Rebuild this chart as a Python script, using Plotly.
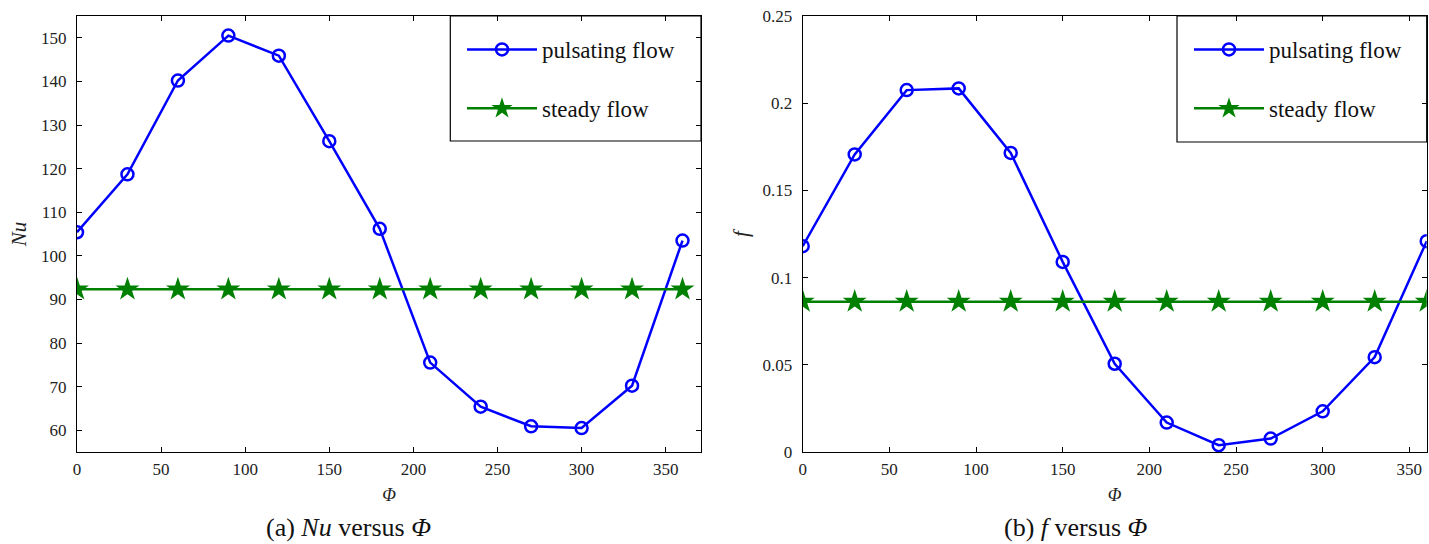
import plotly.graph_objects as go

phi = [0, 30, 60, 90, 120, 150, 180, 210, 240, 270, 300, 330, 360]
nu_pulsating = [105.4, 118.7, 140.2, 150.5, 145.9, 126.3, 106.2, 75.5, 65.4, 60.9, 60.5, 70.2, 103.5]
nu_steady = [92.3] * 13
f_pulsating = [0.118, 0.1706, 0.2075, 0.2085, 0.1715, 0.109, 0.0506, 0.0169, 0.0039, 0.0077, 0.0233, 0.0544, 0.1209]
f_steady = [0.0862] * 13

W, H = 1429, 544
FONT = "Liberation Serif"
BLUE = "#0000ff"
GREEN = "#008000"

def px(x):
    return x / W

def py(y):
    return 1 - y / H

fig = go.Figure()

def add_pair(xa, ya, pul, st, legend):
    fig.add_trace(go.Scatter(
        x=phi, y=pul, xaxis=xa, yaxis=ya, name="pulsating flow", legend=legend,
        mode="lines+markers", legendgroup=legend + "a",
        line=dict(color=BLUE, width=2.5),
        marker=dict(symbol="circle-open", size=12, color=BLUE, line=dict(width=2.5, color=BLUE)),
    ))
    fig.add_trace(go.Scatter(
        x=phi, y=st, xaxis=xa, yaxis=ya, name="steady flow", legend=legend,
        mode="lines+markers", legendgroup=legend + "b",
        line=dict(color=GREEN, width=2.5),
        marker=dict(symbol="star", size=18, color=GREEN, line=dict(width=0)),
    ))

add_pair("x", "y", nu_pulsating, nu_steady, "legend")
add_pair("x2", "y2", f_pulsating, f_steady, "legend2")

axis_common = dict(
    showline=True, linecolor="black", linewidth=1.2, mirror="ticks",
    ticks="inside", ticklen=5, tickwidth=1, tickcolor="black",
    showgrid=False, zeroline=False, automargin=False,
    tickfont=dict(family=FONT, size=17, color="#222"),
)

yd = [py(452), py(16)]
fig.update_layout(
    template="none",
    width=W, height=H,
    margin=dict(l=0, r=0, t=0, b=0, autoexpand=False),
    paper_bgcolor="white", plot_bgcolor="white",
    font=dict(family=FONT, color="#222"),
    xaxis=dict(domain=[px(77), px(701)], range=[0, 371], dtick=50, anchor="y",
               title=dict(text="<i>Φ</i>", font=dict(family=FONT, size=18), standoff=10),
               ticklabelstandoff=1, **axis_common),
    yaxis=dict(domain=yd, range=[55, 155], dtick=10, tick0=0, anchor="x",
               title=dict(text="<i>Nu</i>", font=dict(family=FONT, size=21), standoff=8),
               ticklabelstandoff=6, **axis_common),
    xaxis2=dict(domain=[px(802.7), px(1426.7)], range=[0, 360], dtick=50, anchor="y2",
                title=dict(text="<i>Φ</i>", font=dict(family=FONT, size=18), standoff=10),
                ticklabelstandoff=1, **axis_common),
    yaxis2=dict(domain=yd, range=[0, 0.25], dtick=0.05, anchor="x2",
                tickformat="~g",
                title=dict(text="<i>f</i>", font=dict(family=FONT, size=21), standoff=8),
                ticklabelstandoff=6, **axis_common),
    legend=dict(x=px(462), y=py(28), xanchor="left", yanchor="top",
                bgcolor="rgba(0,0,0,0)", borderwidth=0, itemwidth=70,
                font=dict(family=FONT, size=23, color="#111"),
                traceorder="grouped", tracegroupgap=26),
    legend2=dict(x=px(1189), y=py(28), xanchor="left", yanchor="top",
                 bgcolor="rgba(0,0,0,0)", borderwidth=0, itemwidth=70,
                 font=dict(family=FONT, size=23, color="#111"),
                 traceorder="grouped", tracegroupgap=26),
    shapes=[
        dict(type="rect", xref="paper", yref="paper", x0=px(450.3), x1=px(701), y0=py(141), y1=py(16),
             line=dict(color="black", width=1.2), fillcolor="rgba(0,0,0,0)"),
        dict(type="rect", xref="paper", yref="paper", x0=px(1177), x1=px(1426.7), y0=py(142), y1=py(16),
             line=dict(color="black", width=1.2), fillcolor="rgba(0,0,0,0)"),
    ],
    annotations=[
        dict(text="(a) <i>Nu</i> versus <i>Φ</i>", xref="paper", yref="paper", x=px(348), y=py(527),
             showarrow=False, xanchor="center", yanchor="middle", font=dict(family=FONT, size=26, color="#111")),
        dict(text="(b) <i>f</i> versus <i>Φ</i>", xref="paper", yref="paper", x=px(1076), y=py(527),
             showarrow=False, xanchor="center", yanchor="middle", font=dict(family=FONT, size=26, color="#111")),
    ],
)

fig.write_html("out.html", config={"displayModeBar": False},
               post_script="document.body.style.margin='0';document.body.style.overflow='hidden';")
